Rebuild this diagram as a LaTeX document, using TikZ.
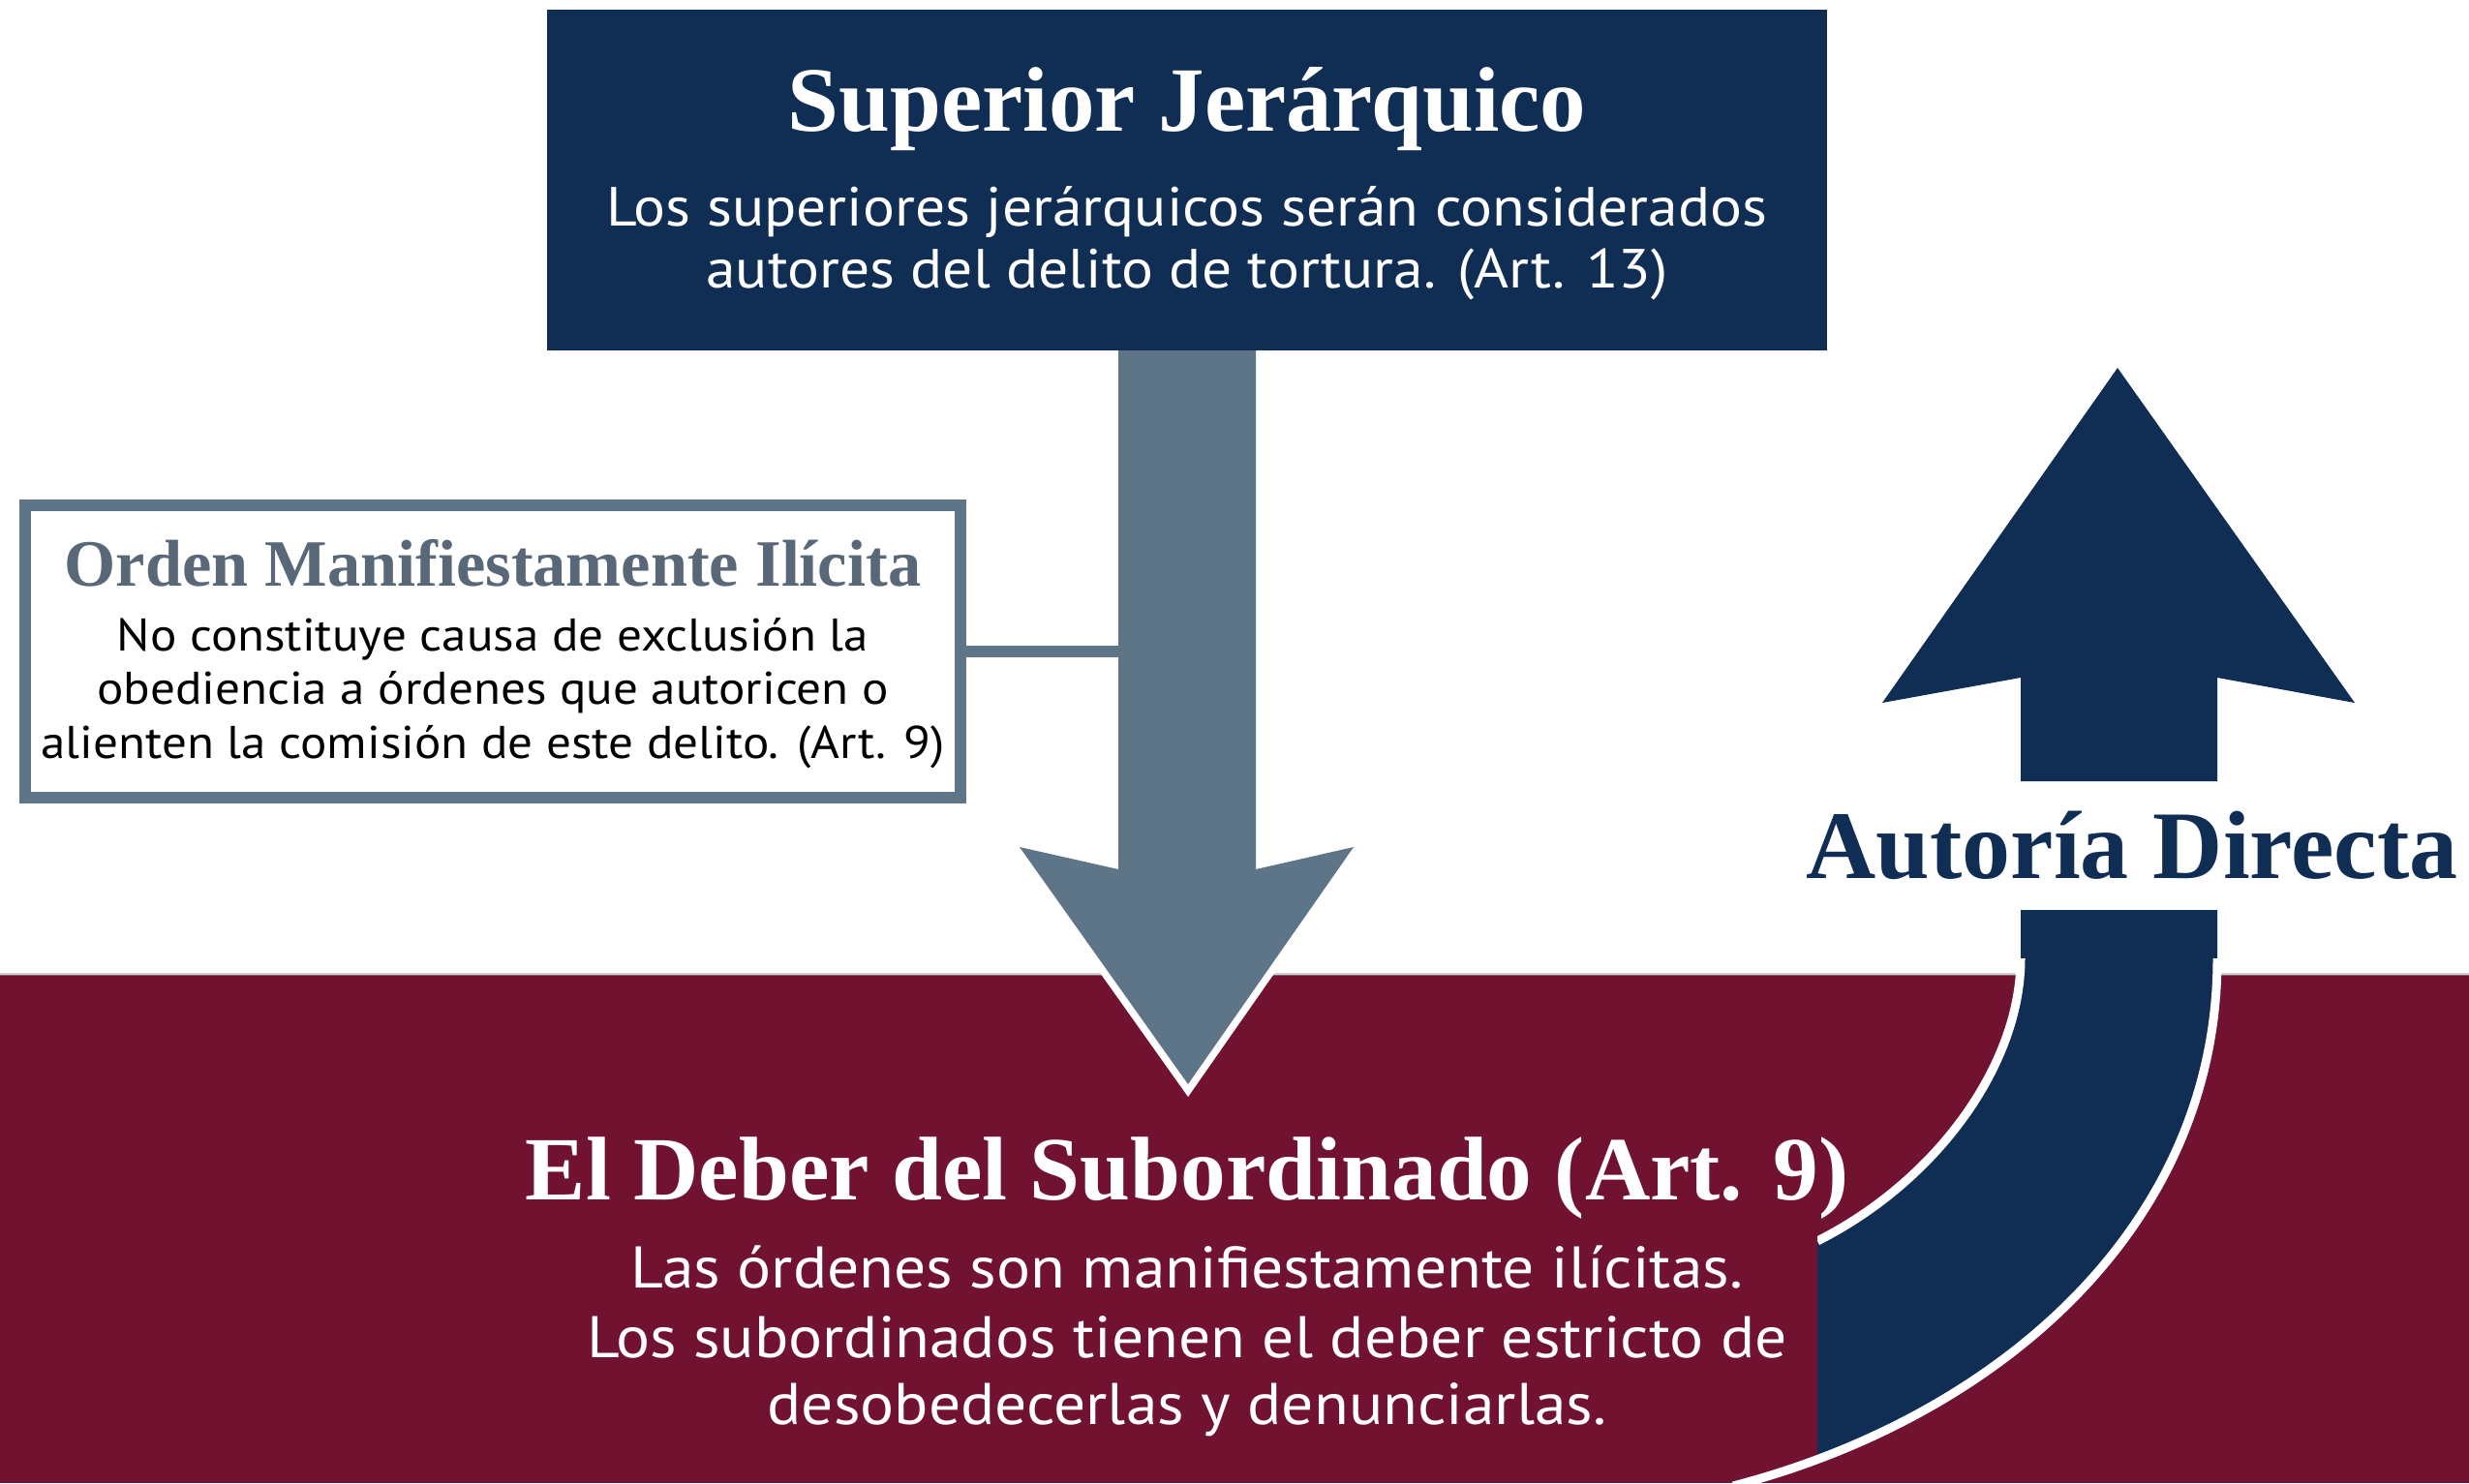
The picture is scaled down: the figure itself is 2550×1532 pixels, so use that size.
\documentclass[tikz,border=0pt]{standalone}
\usepackage{fontspec}
\setmainfont{Liberation Serif}
\newfontfamily\bodyfont[FakeStretch=1.08]{PT Sans}
\newdimen\pxu \pxu=0.3pt
\definecolor{cnavy}{RGB}{16,45,84}
\definecolor{cslate}{RGB}{94,116,135}
\definecolor{cslatetxt}{RGB}{88,104,120}
\definecolor{cmaroon}{RGB}{112,18,48}
\begin{document}
\begin{tikzpicture}[x=0.3pt,y=-0.3pt,
  txt/.style={anchor=base,inner sep=0pt},
  suptitle/.style={txt,text=white,font=\bfseries\fontsize{28.5}{33}\selectfont},
  supbody/.style={txt,text=white,font=\bodyfont\fontsize{17.1}{20}\selectfont},
  ordtitle/.style={txt,text=cslatetxt,font=\bfseries\fontsize{20.5}{24}\selectfont},
  ordbody/.style={txt,text=black,font=\bodyfont\fontsize{14.2}{17}\selectfont},
  debtitle/.style={txt,text=white,font=\bfseries\fontsize{28}{33}\selectfont},
  debbody/.style={txt,text=white,font=\bodyfont\fontsize{18.2}{21}\selectfont},
  autlabel/.style={txt,text=cnavy,font=\bfseries\fontsize{30}{35}\selectfont},
  supbox/.style={fill=cnavy,inner sep=0pt,minimum width=1322\pxu,minimum height=352\pxu},
  ordbox/.style={draw=cslate,line width=12\pxu,fill=white,inner sep=0pt,minimum width=966\pxu,minimum height=302\pxu},
  linkline/.style={draw=cslate,line width=12\pxu},
  whiteedge/.style={draw=white,line width=9\pxu}
]
\useasboundingbox (0,0) rectangle (2550,1532);
\fill[white] (0,0) rectangle (2550,1532);
% maroon band
\fill[cmaroon] (0,1007) rectangle (2550,1532);
\draw[black!35,opacity=0.5,line width=3\pxu] (0,1006) -- (2550,1006);

% down arrow
\path[fill=cslate,preaction={draw=white,line width=15\pxu,line join=miter}]
  (1155,358) -- (1155,898) -- (1053,875) -- (1227,1120) -- (1398,875) -- (1297,898) -- (1297,358) -- cycle;

% top box
\node[supbox] (sup) at (1226,186) {};
\node[suptitle] (supt) at (1226,135) {Superior Jerárquico};
\node[supbody] (supa) at (1226,233) {Los superiores jerárquicos serán considerados};
\node[supbody] (supb) at (1226,297) {autores del delito de tortura. (Art. 13)};

% left box
\node[ordbox] (ord) at (509,673) {};
\coordinate (shaftleft) at (1156,673);
\draw[linkline] (ord.east) -- (shaftleft);
\node[ordtitle] (ordt) at (509,605) {Orden Manifiestamente Ilícita};
\node[ordbody] (orda) at (509,672) {No constituye causa de exclusión la};
\node[ordbody] (ordb) at (509,727) {obediencia a órdenes que autoricen o};
\node[ordbody] (ordc) at (509,783) {alienten la comisión de este delito. (Art. 9)};

% up arrow
\begin{scope}
  \clip (1877,300) rectangle (2550,1532);
  \fill[cnavy]
    (2187,380) -- (2432,726) -- (2290,700) -- (2290,807) -- (2087,807) -- (2087,700) -- (1944,726) -- cycle
    (2290,940) -- (2290,990) .. controls (2290,1270) and (2060,1465) .. (1790,1535)
      -- (1790,1282) -- (1877,1282) .. controls (2000,1220) and (2087,1100) .. (2087,990) -- (2087,940) -- cycle;
  \draw[whiteedge] (1877,1282) .. controls (2000,1220) and (2087,1100) .. (2087,990);
\end{scope}
\draw[whiteedge] (2290,990) .. controls (2290,1270) and (2060,1465) .. (1790,1535);
\node[autlabel] (aut) at (2202,907) {Autoría Directa};

% bottom text
\node[debtitle] (debt) at (1226,1239) {El Deber del Subordinado (Art. 9)};
\node[debbody] (deba) at (1226,1330) {Las órdenes son manifiestamente ilícitas.};
\node[debbody] (debb) at (1226,1402) {Los subordinados tienen el deber estricto de};
\node[debbody] (debc) at (1226,1471) {desobedecerlas y denunciarlas.};
\end{tikzpicture}
\end{document}
